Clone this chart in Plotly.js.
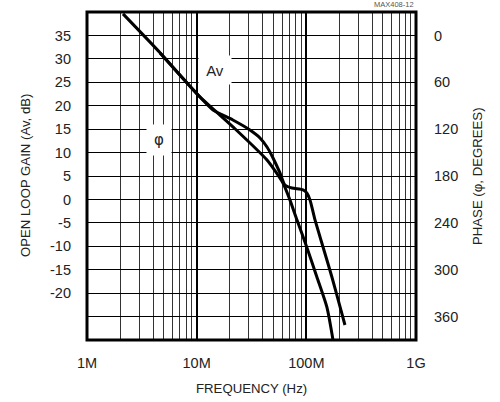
<!DOCTYPE html>
<html>
<head>
<meta charset="utf-8">
<script src="https://cdn.plot.ly/plotly-3.0.1.min.js"></script>
<style>
  html, body { margin: 0; padding: 0; background: #ffffff; }
  #chart { width: 500px; height: 402px; }
</style>
</head>
<body>
<div id="chart"></div>
<script>
// ---- data ----
const gainFreq = [2.13e6, 4.64e6, 10.7e6, 21.4e6, 43.8e6, 61.2e6, 70.8e6, 82.2e6, 101e6, 125e6, 154e6, 175e6];
const gainDb   = [39.6, 31.3, 21.9, 15.5, 8.4, 3.5, -0.1, -4.4, -10.2, -16.6, -23.0, -30];

const phaseFreq = [4.63e6, 10.7e6, 14.1e6, 21.4e6, 30.6e6, 37.8e6, 43.8e6, 49.7e6, 57.5e6, 63.8e6, 74.0e6, 93.3e6, 101e6, 108e6, 120e6, 142e6, 171e6, 203e6, 225e6];
const phaseDeg  = [22.5, 78.8, 95.5, 108.3, 121.1, 131.3, 142.9, 156.9, 176.1, 191.5, 195.4, 197.9, 201.8, 210.7, 236.3, 270.9, 309.3, 347.7, 370.8];

const freqTickVals  = [1e6, 1e7, 1e8, 1e9];
const freqTickText  = ["1M", "10M", "100M", "1G"];
const freqMinorVals = [2e6,3e6,4e6,5e6,6e6,7e6,8e6,9e6,
                       2e7,3e7,4e7,5e7,6e7,7e7,8e7,9e7,
                       2e8,3e8,4e8,5e8,6e8,7e8,8e8,9e8];
const gainTickVals  = [-25, -20, -15, -10, -5, 0, 5, 10, 15, 20, 25, 30, 35];
const gainTickText  = ["", "-20", "-15", "-10", "-5", "0", "5", "10", "15", "20", "25", "30", "35"];
const phaseTickVals = [0, 60, 120, 180, 240, 300, 360];
const phaseTickText = ["0", "60", "120", "180", "240", "300", "360"];

const tickFont  = {family: "Liberation Sans, Arial, sans-serif", size: 14.5, color: "#222"};
const titleFont = {family: "Liberation Sans, Arial, sans-serif", size: 13.2, color: "#222"};

const traces = [
  {x: gainFreq, y: gainDb, type: "scatter", mode: "lines", name: "Av",
   line: {color: "#000", width: 3, shape: "spline", smoothing: 0.6}, yaxis: "y"},
  {x: phaseFreq, y: phaseDeg, type: "scatter", mode: "lines", name: "phase",
   line: {color: "#000", width: 3, shape: "spline", smoothing: 0.6}, yaxis: "y2"}
];

const layout = {
  width: 500, height: 402,
  margin: {l: 87, r: 84, t: 12, b: 62},
  paper_bgcolor: "#fff", plot_bgcolor: "#fff",
  showlegend: false,
  xaxis: {
    type: "log", range: [6, 9],
    tickmode: "array", tickvals: freqTickVals, ticktext: freqTickText,
    showgrid: true, gridcolor: "#000", gridwidth: 2,
    minor: {tickmode: "array", tickvals: freqMinorVals, showgrid: true, gridcolor: "#333", gridwidth: 1, ticks: ""},
    showline: false, ticks: "", ticklabelstandoff: 12, tickfont: tickFont, zeroline: false
  },
  yaxis: {
    range: [-30, 40],
    tickmode: "array", tickvals: gainTickVals, ticktext: gainTickText,
    showgrid: true, gridcolor: "#000", gridwidth: 1,
    showline: false, ticks: "", ticklabelstandoff: 15, tickfont: tickFont, zeroline: false
  },
  yaxis2: {
    overlaying: "y", side: "right",
    range: [390, -30],
    tickmode: "array", tickvals: phaseTickVals, ticktext: phaseTickText,
    showgrid: false, showline: false, zeroline: false,
    ticks: "", ticklabelstandoff: 17, tickfont: tickFont
  },
  shapes: [
    {type: "rect", xref: "paper", yref: "paper", x0: 0, x1: 1, y0: 0, y1: 1,
     line: {color: "#000", width: 3}, fillcolor: "rgba(0,0,0,0)", layer: "above"}
  ],
  annotations: [
    {text: "Av", xref: "x", yref: "y", x: Math.log10(14.7e6), y: 27.6, showarrow: false,
     bgcolor: "#fff", width: 30, height: 26, font: {family: "Liberation Sans, sans-serif", size: 15, color: "#222"}},
    {text: "φ", xref: "x", yref: "y", x: Math.log10(4.54e6), y: 12.7, showarrow: false,
     bgcolor: "#fff", width: 22, height: 28, font: {family: "DejaVu Sans, sans-serif", size: 15, color: "#222"}},
    {text: "FREQUENCY (Hz)", xref: "paper", yref: "paper", x: 0.5, y: 0, yanchor: "middle",
     yshift: -48, showarrow: false, font: titleFont},
    {text: "OPEN LOOP GAIN (Av, dB)", xref: "paper", yref: "paper", x: 0, y: 0.5, xanchor: "center",
     xshift: -62, textangle: -90, showarrow: false, font: titleFont},
    {text: "PHASE (φ, DEGREES)", xref: "paper", yref: "paper", x: 1, y: 0.5, xanchor: "center",
     xshift: 61, textangle: -90, showarrow: false, font: titleFont},
    {text: "MAX408-12", xref: "paper", yref: "paper", x: 1, y: 1, xanchor: "right", yanchor: "bottom",
     yshift: 1, showarrow: false, font: {family: "Liberation Sans, sans-serif", size: 7.5, color: "#555"}}
  ]
};

Plotly.newPlot("chart", traces, layout, {staticPlot: false, displayModeBar: false});
</script>
</body>
</html>
